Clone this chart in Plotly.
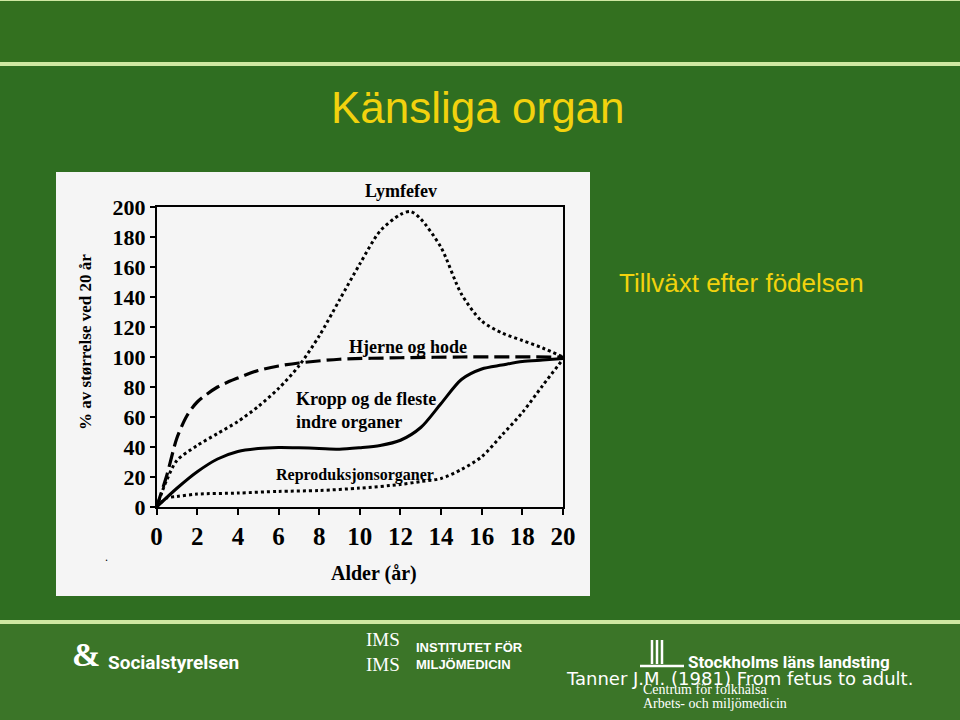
import plotly.graph_objects as go

# ---------------- data ----------------
lymf_age = [0, 0.5, 1, 2, 3, 4, 5, 6, 7, 8, 9, 10, 11, 12, 12.5, 13, 14, 15, 16, 17, 18, 19, 20]
lymf_val = [0, 18, 31, 41, 49, 57, 67, 79, 94, 114, 138, 162, 184, 195, 197, 192, 173, 142, 124, 116, 111, 106, 100]

hjerne_age = [0, 0.5, 1, 1.5, 2, 3, 4, 5, 6, 7, 9, 12, 15, 20]
hjerne_val = [0, 21, 46, 61, 70, 80, 86, 91, 94, 96, 98.5, 99.5, 100, 100]

kropp_age = [0, 1, 2, 3, 4, 5, 6, 7, 8, 9, 10, 11, 12, 13, 14, 15, 16, 17, 18, 19, 20]
kropp_val = [0, 12.5, 23.5, 32, 37, 39, 39.7, 39.5, 39, 38.5, 39.5, 41, 44.5, 53, 69, 85, 92, 94.6, 97, 98, 99]

repro_age = [0, 0.5, 1, 2, 4, 6, 8, 10, 12, 13, 14, 15, 16, 17, 18, 19, 20]
repro_val = [0, 6, 7, 8.6, 9.3, 10.4, 11, 12.6, 15, 17, 19, 25, 33.5, 48, 63, 81, 98.5]

x_ticks = [0, 2, 4, 6, 8, 10, 12, 14, 16, 18, 20]
y_ticks = [0, 20, 40, 60, 80, 100, 120, 140, 160, 180, 200]

# ---------------- helpers ----------------
W, H = 960, 720
def X(px):
    return px / W
def Y(py):
    return 1 - py / H

MAIN_GREEN = "#2f6e21"
TOP_GREEN = "#33701f"
FOOT_GREEN = "#3b7528"
LIGHT_LINE = "#cfe8a2"
YELLOW = "#f2d20e"
IMG_BG = "#f5f5f5"
SERIF = "Liberation Serif, Times New Roman, serif"
SANS = "Liberation Sans, Arial, sans-serif"

fig = go.Figure()

fig.add_trace(go.Scatter(x=lymf_age, y=lymf_val, mode="lines", name="Lymfefev",
                         line=dict(color="black", width=3, dash="dot", shape="spline", smoothing=0.8)))
fig.add_trace(go.Scatter(x=hjerne_age, y=hjerne_val, mode="lines", name="Hjerne og hode",
                         line=dict(color="black", width=3.2, dash="15px,6px", shape="spline", smoothing=0.8)))
fig.add_trace(go.Scatter(x=kropp_age, y=kropp_val, mode="lines", name="Kropp",
                         line=dict(color="black", width=3, shape="spline", smoothing=0.8)))
fig.add_trace(go.Scatter(x=repro_age, y=repro_val, mode="lines", name="Reproduksjonsorganer",
                         line=dict(color="black", width=3, dash="dot", shape="spline", smoothing=0.8)))

shapes = [
    # top band
    dict(type="rect", xref="paper", yref="paper", x0=0, x1=1, y0=Y(62), y1=1,
         fillcolor=TOP_GREEN, line_width=0, layer="below"),
    dict(type="rect", xref="paper", yref="paper", x0=0, x1=1, y0=Y(66), y1=Y(62),
         fillcolor=LIGHT_LINE, line_width=0, layer="below"),
    dict(type="rect", xref="paper", yref="paper", x0=0, x1=1, y0=Y(1), y1=1,
         fillcolor=LIGHT_LINE, line_width=0, layer="below"),
    # footer
    dict(type="rect", xref="paper", yref="paper", x0=0, x1=1, y0=Y(624), y1=Y(620),
         fillcolor=LIGHT_LINE, line_width=0, layer="below"),
    dict(type="rect", xref="paper", yref="paper", x0=0, x1=1, y0=0, y1=Y(624),
         fillcolor=FOOT_GREEN, line_width=0, layer="below"),
    # chart image background
    dict(type="rect", xref="paper", yref="paper", x0=X(56), x1=X(590), y0=Y(596), y1=Y(172),
         fillcolor=IMG_BG, line_width=0, layer="below"),
]

# simple white logo strokes (Stockholms läns landsting)
for px in [652, 657, 662]:
    shapes.append(dict(type="line", xref="paper", yref="paper", x0=X(px), x1=X(px),
                       y0=Y(664), y1=Y(640), line=dict(color="white", width=2.5)))
shapes.append(dict(type="line", xref="paper", yref="paper", x0=X(640), x1=X(684),
                   y0=Y(666), y1=Y(666), line=dict(color="white", width=2.5)))

annotations = [
    dict(text="Känsliga organ", x=X(478), y=Y(107), xref="paper", yref="paper",
         showarrow=False, font=dict(family=SANS, size=44, color=YELLOW), xanchor="center", yanchor="middle"),
    dict(text="Tillväxt efter födelsen", x=X(741), y=Y(283), xref="paper", yref="paper",
         showarrow=False, font=dict(family=SANS, size=26, color=YELLOW), xanchor="center", yanchor="middle"),
    # chart labels
    dict(text="<b>Lymfefev</b>", x=X(401), y=Y(191), xref="paper", yref="paper",
         showarrow=False, font=dict(family=SERIF, size=18, color="black"), xanchor="center", yanchor="middle"),
    dict(text="<b>Hjerne og hode</b>", x=X(408), y=Y(347), xref="paper", yref="paper",
         showarrow=False, font=dict(family=SERIF, size=18, color="black"), xanchor="center", yanchor="middle"),
    dict(text="<b>Kropp og de fleste<br>indre organer</b>", x=X(294), y=Y(410), xref="paper", yref="paper",
         showarrow=False, align="left", font=dict(family=SERIF, size=18, color="black"),
         xanchor="left", yanchor="middle"),
    dict(text="<b>Reproduksjonsorganer</b>", x=X(355), y=Y(475), xref="paper", yref="paper",
         showarrow=False, font=dict(family=SERIF, size=16, color="black"), xanchor="center", yanchor="middle"),
    dict(text="<b>Alder (år)</b>", x=X(374), y=Y(573), xref="paper", yref="paper",
         showarrow=False, font=dict(family=SERIF, size=20, color="black"), xanchor="center", yanchor="middle"),
    dict(text="<b>% av størrelse ved 20 år</b>", x=X(85), y=Y(342), xref="paper", yref="paper",
         showarrow=False, textangle=-90, font=dict(family=SERIF, size=17, color="black"),
         xanchor="center", yanchor="middle"),
    dict(text=".", x=X(103), y=Y(566), xref="paper", yref="paper",
         showarrow=False, font=dict(family=SERIF, size=12, color="black")),
    # footer
    dict(text="<b>&amp;</b>", x=X(86), y=Y(654), xref="paper", yref="paper",
         showarrow=False, font=dict(family=SERIF, size=34, color="white"), xanchor="center", yanchor="middle"),
    dict(text="<b>Socialstyrelsen</b>", x=X(106), y=Y(662), xref="paper", yref="paper",
         showarrow=False, font=dict(family="Roboto, " + SANS, size=19, color="white"),
         xanchor="left", yanchor="middle"),
    dict(text="IMS<br>IMS", x=X(383), y=Y(652), xref="paper", yref="paper",
         showarrow=False, font=dict(family=SERIF, size=19, color="white"), xanchor="center", yanchor="middle"),
    dict(text="<b>INSTITUTET FÖR<br>MILJÖMEDICIN</b>", x=X(414), y=Y(656), xref="paper", yref="paper",
         showarrow=False, align="left", font=dict(family=SANS, size=13, color="white"),
         xanchor="left", yanchor="middle"),
    dict(text="<b>Stockholms läns landsting</b>", x=X(686), y=Y(662), xref="paper", yref="paper",
         showarrow=False, font=dict(family="Roboto, " + SANS, size=17, color="white"),
         xanchor="left", yanchor="middle"),
    dict(text="Tanner J.M. (1981) From fetus to adult.", x=X(564), y=Y(678), xref="paper", yref="paper",
         showarrow=False, font=dict(family="DejaVu Sans", size=18, color="white"),
         xanchor="left", yanchor="middle"),
    dict(text="Centrum för folkhälsa", x=X(641), y=Y(689), xref="paper", yref="paper",
         showarrow=False, font=dict(family=SERIF, size=14, color="white"), xanchor="left", yanchor="middle"),
    dict(text="Arbets- och miljömedicin", x=X(641), y=Y(703), xref="paper", yref="paper",
         showarrow=False, font=dict(family=SERIF, size=14, color="white"), xanchor="left", yanchor="middle"),
]

fig.update_layout(
    width=W, height=H,
    margin=dict(l=0, r=0, t=0, b=0, pad=0, autoexpand=False),
    paper_bgcolor=MAIN_GREEN,
    plot_bgcolor=IMG_BG,
    showlegend=False,
    shapes=shapes,
    annotations=annotations,
    xaxis=dict(domain=[X(156.6), X(563)], range=[0, 20], tickvals=x_ticks, ticktext=[str(v) for v in x_ticks],
               automargin=False,
               showgrid=False, zeroline=False, showline=True, linecolor="black", linewidth=1.6,
               mirror=True, ticks="outside", ticklen=6, tickwidth=1.5, tickcolor="black",
               ticklabelstandoff=0,
               tickfont=dict(family=SERIF, size=25, color="black", weight="bold")),
    yaxis=dict(domain=[Y(507), Y(207)], range=[0, 200], tickvals=y_ticks, ticktext=[str(v) for v in y_ticks],
               automargin=False,
               showgrid=False, zeroline=False, showline=True, linecolor="black", linewidth=1.6,
               mirror=True, ticks="outside", ticklen=5, tickwidth=1.5, tickcolor="black",
               tickfont=dict(family=SERIF, size=22, color="black", weight="bold")),
)

fig.write_html("out.html")
